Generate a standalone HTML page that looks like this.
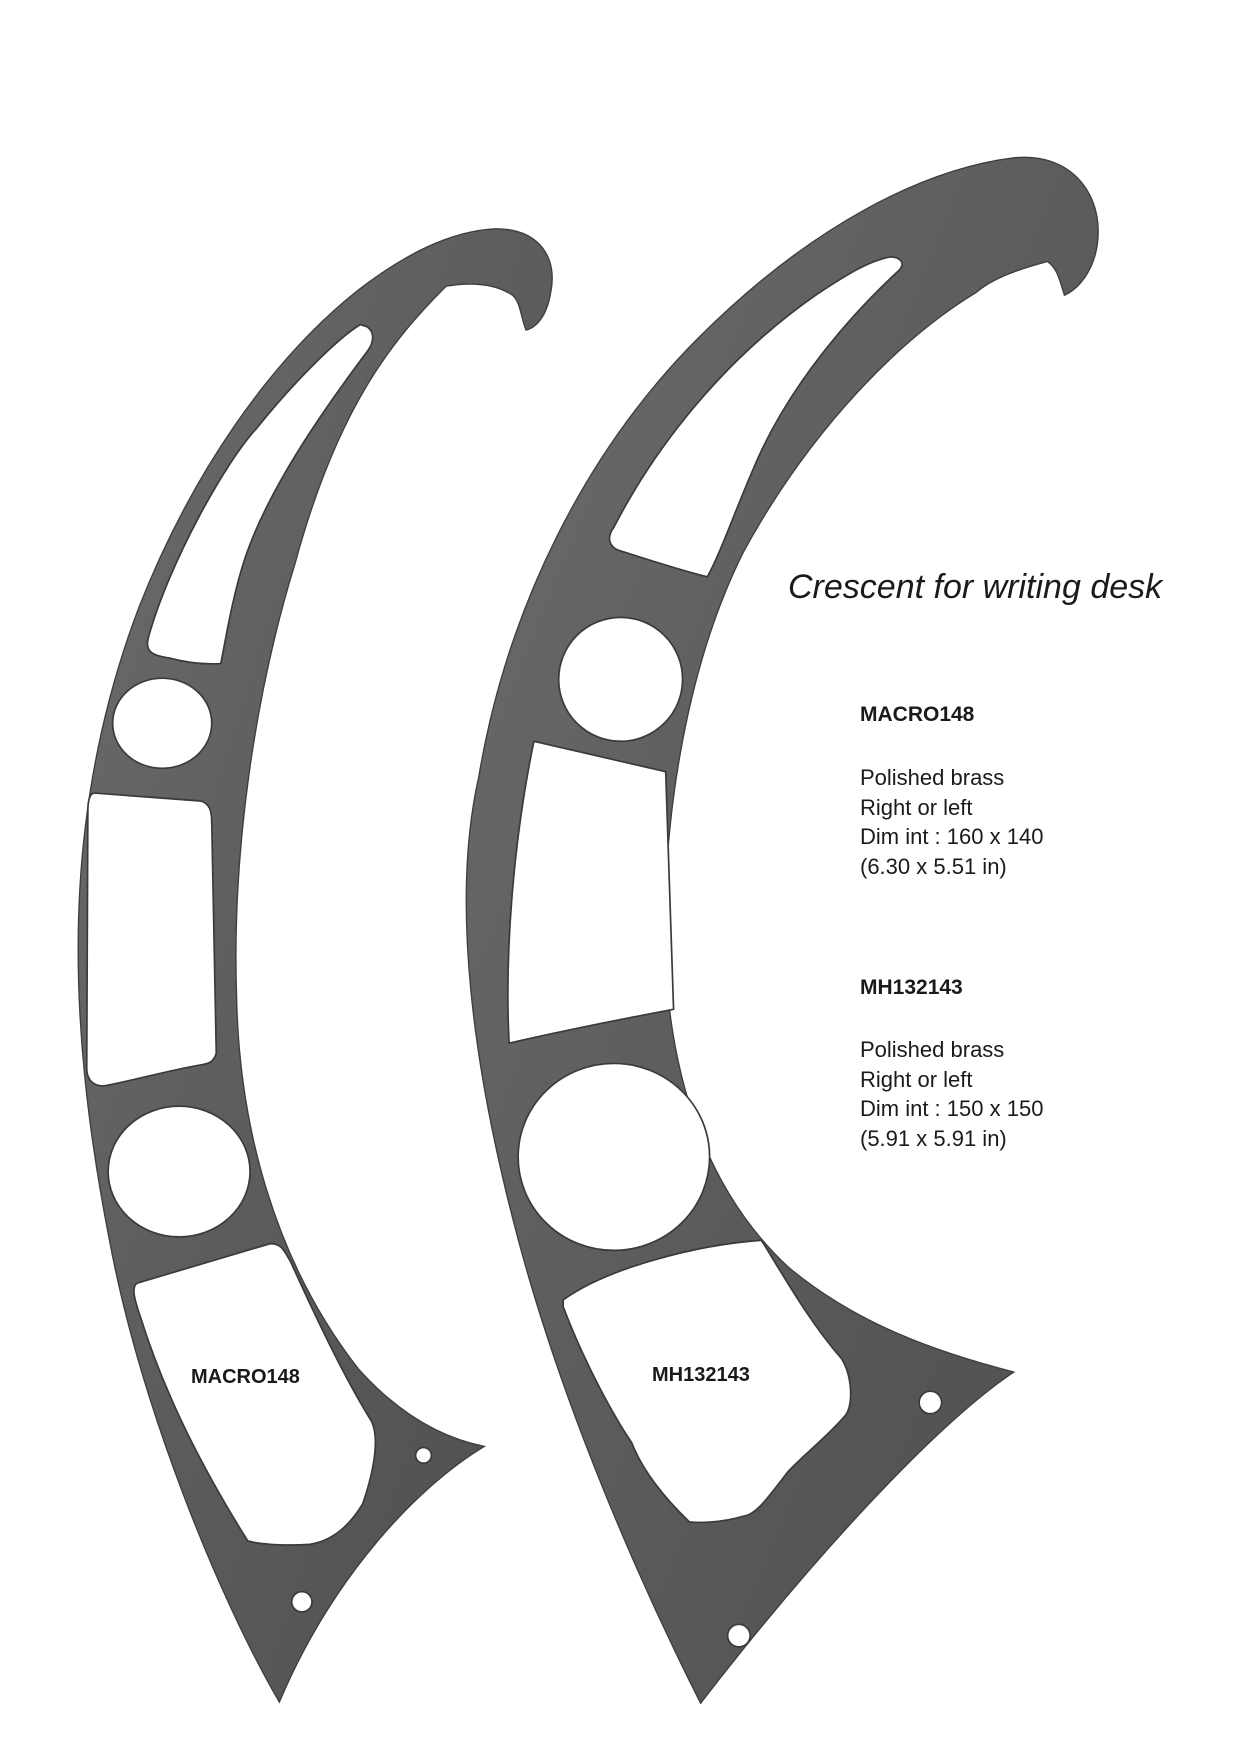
<!DOCTYPE html>
<html><head><meta charset="utf-8"><style>
html,body{margin:0;padding:0;background:#fff}
body{width:1239px;height:1754px;position:relative;overflow:hidden;font-family:"Liberation Sans",sans-serif;color:#1a1a1a}
svg{position:absolute;left:0;top:0}
.t{position:absolute;white-space:nowrap}
</style></head><body>
<svg width="1239" height="1754" viewBox="0 0 1100 1557">
<defs>
<linearGradient id="g1" x1="0" y1="0" x2="1" y2="1">
<stop offset="0" stop-color="#6c6c6c"/><stop offset="0.5" stop-color="#5c5c5c"/><stop offset="1" stop-color="#4e4e4e"/>
</linearGradient>
</defs>
<g fill="url(#g1)" stroke="#3e3e3e" stroke-width="1.2">
<path d="M 248 1511 C 195 1420 125 1250 97 1100 C 58 900 55 720 123 540 C 170 420 240 320 316 259 C 360 225 400 205 440 203 C 480 203 495 230 489 259 C 486 278 478 290 467 293 C 462 280 462 268 455 262 C 440 252 420 250 396 254 C 350 300 300 360 262 500 C 225 620 206 760 210 883 C 212 1000 244 1120 318 1215 C 352 1253 390 1276 430 1284 C 370 1320 295 1400 248 1511 Z"/>
<path d="M 622 1512 C 568 1405 500 1250 460 1100 C 420 950 400 800 425 690 C 450 540 520 400 620 300 C 720 200 820 150 900 140 C 950 135 975 170 975 205 C 975 235 960 255 945 262 C 940 245 938 238 930 232 C 900 240 880 248 866 260 C 800 300 720 380 660 490 C 610 590 590 720 590 830 C 592 960 630 1060 700 1125 C 760 1175 830 1200 900 1218 C 830 1265 720 1385 622 1512 Z"/>
</g>
<g fill="#fff" stroke="#3a3a3a" stroke-width="1.5">
<path d="M 326 290 C 333 295 332 304 326 312 C 290 360 240 430 218 494 C 206 530 200 570 196 589 C 180 590 165 588 150 584 C 135 582 128 578 132 565 C 150 500 200 410 228 380 C 260 340 300 300 320 288 Z"/>
<ellipse cx="144" cy="642" rx="44" ry="40"/>
<path d="M 84 704 L 178 711 C 186 713 188 720 188 730 L 192 935 C 190 942 186 944 180 945 C 150 950 115 960 92 964 C 82 964 77 958 77 948 L 78 720 C 78 710 80 704 84 704 Z"/>
<ellipse cx="159" cy="1040" rx="63" ry="58"/>
<path d="M 122 1139 L 240 1104 C 250 1104 252 1110 258 1120 C 285 1180 310 1230 330 1262 C 336 1275 334 1300 322 1335 C 310 1355 295 1368 275 1371 C 260 1372 235 1372 220 1368 C 190 1320 150 1250 125 1170 C 118 1150 117 1142 122 1139 Z"/>
<circle cx="376" cy="1292" r="7"/>
<circle cx="268" cy="1422" r="9"/>
<path d="M 790 228 C 800 228 804 234 798 240 C 760 275 700 340 668 418 C 650 460 640 490 628 512 C 600 505 570 495 548 488 C 540 484 539 476 545 468 C 580 400 640 320 727 260 C 750 245 770 232 790 228 Z"/>
<circle cx="551" cy="603" r="55"/>
<path d="M 474 658 L 591 685 L 598 896 C 550 905 500 915 452 926 C 448 850 455 750 474 658 Z"/>
<ellipse cx="545" cy="1027" rx="85" ry="83"/>
<path d="M 500 1154 C 540 1125 620 1105 676 1101 C 700 1140 720 1175 747 1206 C 756 1220 758 1245 751 1256 C 735 1275 715 1290 700 1306 C 685 1325 672 1345 660 1346 C 640 1352 620 1352 612 1351 C 590 1330 570 1305 561 1281 C 540 1250 515 1200 500 1160 Z"/>
<circle cx="826" cy="1245" r="10"/>
<circle cx="656" cy="1452" r="10"/>
</g>
</svg>
<div class="t" style="left:788px;top:568px;font-size:34px;font-style:italic">Crescent for writing desk</div>
<div class="t" style="left:860px;top:703px;font-size:21px;font-weight:bold">MACRO148</div>
<div class="t" style="left:860px;top:763px;font-size:22px;line-height:29.5px">Polished brass<br>Right or left<br>Dim int : 160 x 140<br>(6.30 x 5.51 in)</div>
<div class="t" style="left:860px;top:976px;font-size:21px;font-weight:bold">MH132143</div>
<div class="t" style="left:860px;top:1035px;font-size:22px;line-height:29.5px">Polished brass<br>Right or left<br>Dim int : 150 x 150<br>(5.91 x 5.91 in)</div>
<div class="t" style="left:191px;top:1366px;font-size:20px;font-weight:bold">MACRO148</div>
<div class="t" style="left:652px;top:1364px;font-size:20px;font-weight:bold">MH132143</div>
</body></html>
